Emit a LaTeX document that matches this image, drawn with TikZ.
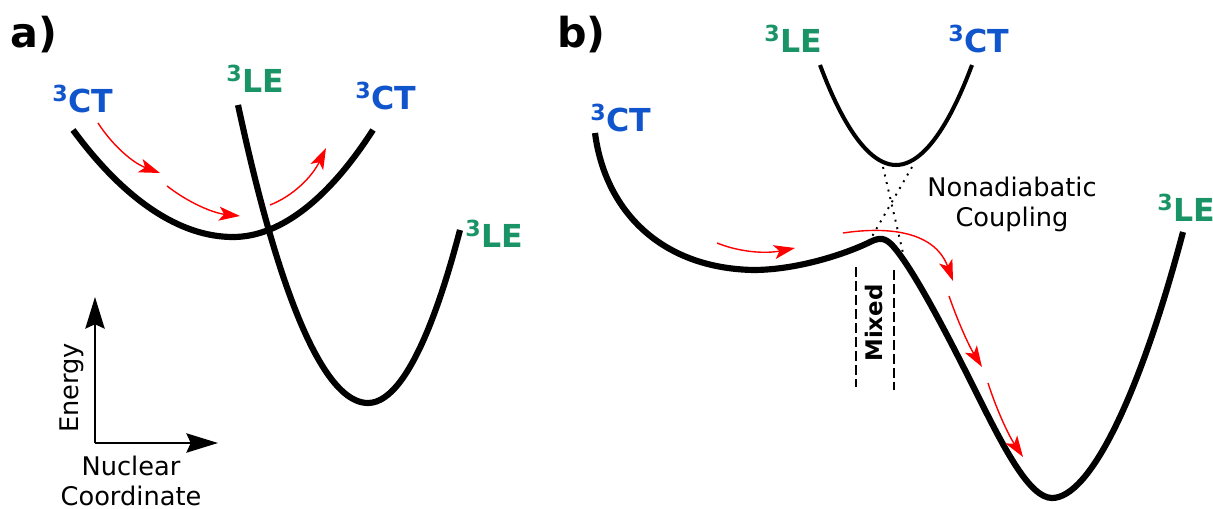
\documentclass[tikz,border=0pt]{standalone}
\usepackage{fontspec}
\setmainfont{DejaVu Sans}
\usetikzlibrary{arrows.meta}
\definecolor{ctblue}{RGB}{17,85,204}
\definecolor{legreen}{RGB}{26,148,102}

\begin{document}
\begin{tikzpicture}[x=0.02cm,y=-0.02cm,
    pes/.style={line width=3.5pt},
    flow/.style={red,line width=0.8pt,-{Stealth[length=12pt,width=8pt,inset=3pt]}},
    axis/.style={line width=1.2pt,-{Stealth[length=18pt,width=11pt,inset=2.5pt]}},
    ct/.style={text=ctblue,font=\fontsize{18}{20}\selectfont\bfseries,inner sep=0pt,anchor=base west},
    le/.style={ct,text=legreen},
    panel/.style={font=\fontsize{23.5}{26}\selectfont\bfseries,inner sep=0pt,anchor=base west},
    lbl/.style={font=\fontsize{14.6}{17}\selectfont,align=center,inner sep=1pt}] %
    \useasboundingbox (0,0) rectangle (1213,509);
    % a) crossing of the two states
    \node[panel] (pa) at (10,48) {a)};
    \node[ct] (ctleft) at (52,113) {\textsuperscript{3}CT};
    \node[le] (letop) at (226,93) {\textsuperscript{3}LE};
    \node[ct] (ctright) at (355,110) {\textsuperscript{3}CT};
    \node[le] (leright) at (465,248) {\textsuperscript{3}LE};
    \draw[pes] (73,130) parabola bend (233,237) (373,130);
    \draw[pes] (238,105) parabola bend (368,403) (460,230);
    \draw[flow] (98,123) .. controls (113,146) and (133,163) .. (160,173);
    \draw[flow] (167,186) .. controls (189,203) and (213,213) .. (240,216);
    \draw[flow] (270,205) .. controls (293,196) and (312,177) .. (326,148);
    % axes
    \coordinate (origin) at (95,443);
    \draw[axis] (origin) -- (95,297);
    \draw[axis] (origin) -- (218,443);
    \node[lbl,rotate=90] (energy) at (72,388) {Energy};
    \node[lbl] (nuclear) at (131,481) {Nuclear\\Coordinate};
    % b) adiabatic surfaces
    \node[panel] (pb) at (557,48) {b)};
    \node[le] (leup) at (764,53) {\textsuperscript{3}LE};
    \node[ct] (ctup) at (948,53) {\textsuperscript{3}CT};
    \node[ct] (ctlow) at (590,132) {\textsuperscript{3}CT};
    \node[le] (lelow) at (1157,222) {\textsuperscript{3}LE};
    \draw[line width=2.3pt] (820,65) parabola bend (896,165) (972,65);
    \draw[pes] (595,133) .. controls (605,210) and (660,268) .. (753,270)
      .. controls (800,270) and (850,252) .. (870,242)
      .. controls (880,237) and (885,238) .. (892,245)
      .. controls (915,270) and (955,350) .. (980,400)
      .. controls (1005,450) and (1030,498) .. (1052,498)
      .. controls (1090,498) and (1140,395) .. (1183,232);
    \draw[line width=1.1pt,dash pattern=on 1.1pt off 3.3pt] (883,167) -- (903,253);
    \draw[line width=1.1pt,dash pattern=on 1.1pt off 3.3pt] (912,167) -- (870,240);
    \node[lbl] (coupling) at (1012,204) {Nonadiabatic\\Coupling};
    \draw[line width=1.2pt,dash pattern=on 5.5pt off 2.5pt] (856,267) -- (856,387);
    \draw[line width=1.2pt,dash pattern=on 5.5pt off 2.5pt] (894,270) -- (894,390);
    \node[font=\fontsize{13}{15}\selectfont\bfseries,rotate=90] (mixed) at (874,323) {Mixed};
    \draw[flow] (717,243) .. controls (739,252) and (765,254) .. (795,248);
    \draw[flow] (843,233) .. controls (890,226) and (935,232) .. (953,281);
    \draw[flow] (949,296) .. controls (958,322) and (969,346) .. (982,367);
    \draw[flow] (988,383) .. controls (997,411) and (1009,436) .. (1023,457);
\end{tikzpicture}
\end{document}
